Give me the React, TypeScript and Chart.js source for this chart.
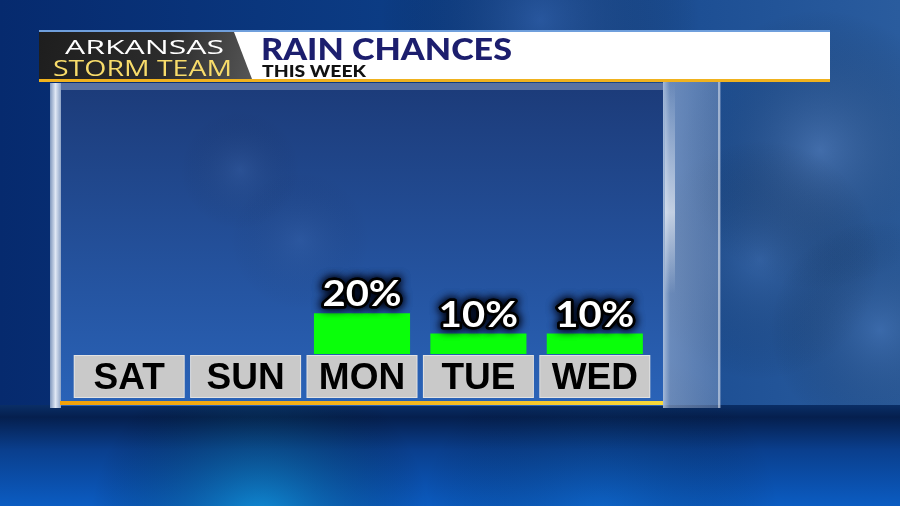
import React, { useEffect, useRef } from "react";
import { Chart, registerables } from "chart.js";

Chart.register(...registerables);

const categories = ["SAT", "SUN", "MON", "TUE", "WED"];
const rainChance = [0, 0, 20, 10, 10];
const titleText = "RAIN CHANCES";
const subtitleText = "THIS WEEK";
const brandTop = "ARKANSAS";
const brandBottom = "STORM TEAM";

function fitText(ctx: CanvasRenderingContext2D, text: string, x: number, y: number, w: number, font: string) {
  ctx.font = font;
  const m = ctx.measureText(text).width;
  ctx.save();
  ctx.translate(x, y);
  ctx.scale(w / m, 1);
  ctx.textAlign = "left";
  ctx.textBaseline = "alphabetic";
  ctx.fillText(text, 0, 0);
  ctx.restore();
}

function blob(ctx: CanvasRenderingContext2D, x: number, y: number, r: number, color: string) {
  const g = ctx.createRadialGradient(x, y, 0, x, y, r);
  g.addColorStop(0, color);
  g.addColorStop(1, "rgba(0,0,0,0)");
  ctx.fillStyle = g;
  ctx.fillRect(x - r, y - r, r * 2, r * 2);
}

const scenePlugin = {
  id: "scene",
  beforeDraw(chart: any) {
    const ctx: CanvasRenderingContext2D = chart.ctx;
    const W = chart.width;
    const H = chart.height;
    ctx.save();
    // sky
    const sky = ctx.createLinearGradient(0, 0, W, 0);
    sky.addColorStop(0, "#062a6e");
    sky.addColorStop(0.5, "#0d3f88");
    sky.addColorStop(1, "#2a5c9e");
    ctx.fillStyle = sky;
    ctx.fillRect(0, 0, W, 420);
    blob(ctx, 820, 150, 140, "rgba(120,150,200,0.35)");
    blob(ctx, 760, 260, 120, "rgba(90,130,190,0.3)");
    blob(ctx, 880, 330, 110, "rgba(100,140,200,0.3)");
    blob(ctx, 540, 20, 160, "rgba(80,120,190,0.35)");
    // water
    const water = ctx.createLinearGradient(0, 405, 0, H);
    water.addColorStop(0, "#0a2e66");
    water.addColorStop(0.12, "#051f4e");
    water.addColorStop(0.45, "#0a3f8e");
    water.addColorStop(1, "#0b5cc2");
    ctx.fillStyle = water;
    ctx.fillRect(0, 405, W, H - 405);
    blob(ctx, 260, 525, 170, "rgba(20,190,240,0.55)");
    blob(ctx, 600, 525, 180, "rgba(20,120,220,0.35)");
    // left glass column
    const lc = ctx.createLinearGradient(50, 0, 61, 0);
    lc.addColorStop(0, "#7f97bd");
    lc.addColorStop(0.5, "#dfe7f4");
    lc.addColorStop(1, "#8da3c6");
    ctx.fillStyle = lc;
    ctx.fillRect(50, 83, 11, 325);
    // inner panel
    const pg = ctx.createLinearGradient(0, 83, 0, 405);
    pg.addColorStop(0, "#1c3b79");
    pg.addColorStop(1, "#2a63b8");
    ctx.fillStyle = pg;
    ctx.fillRect(61, 83, 602, 323);
    blob(ctx, 240, 170, 60, "rgba(120,160,220,0.12)");
    blob(ctx, 300, 240, 70, "rgba(120,160,220,0.1)");
    ctx.fillStyle = "rgba(200,215,240,0.35)";
    ctx.fillRect(61, 83, 602, 7);
    // right glass column
    const rc = ctx.createLinearGradient(663, 0, 721, 0);
    rc.addColorStop(0, "rgba(225,235,250,0.7)");
    rc.addColorStop(0.12, "rgba(185,200,228,0.5)");
    rc.addColorStop(1, "rgba(150,170,205,0.42)");
    ctx.fillStyle = rc;
    ctx.fillRect(663, 82, 58, 326);
    const hl = ctx.createLinearGradient(0, 82, 0, 408);
    hl.addColorStop(0, "rgba(255,255,255,0)");
    hl.addColorStop(0.4, "rgba(255,255,255,0.6)");
    hl.addColorStop(0.65, "rgba(255,255,255,0)");
    ctx.fillStyle = hl;
    ctx.fillRect(665, 82, 10, 326);
    ctx.fillStyle = "rgba(255,255,255,0.45)";
    ctx.fillRect(718, 82, 2, 326);
    // orange line
    const ol = ctx.createLinearGradient(60, 0, 663, 0);
    ol.addColorStop(0, "#f2a10a");
    ol.addColorStop(0.6, "#f5b820");
    ol.addColorStop(1, "#f8d93a");
    ctx.fillStyle = ol;
    ctx.fillRect(60, 401, 603, 4);

    // header
    ctx.fillStyle = "#6f9fdc";
    ctx.fillRect(39, 30, 791, 2);
    ctx.fillStyle = "#ffffff";
    ctx.fillRect(39, 32, 791, 48);
    ctx.fillStyle = "#f0b21e";
    ctx.fillRect(39, 79, 791, 3);
    // logo
    const lg = ctx.createLinearGradient(40, 32, 250, 80);
    lg.addColorStop(0, "#1e1e1e");
    lg.addColorStop(0.6, "#2c2c2c");
    lg.addColorStop(1, "#555555");
    ctx.fillStyle = lg;
    ctx.beginPath();
    ctx.moveTo(39, 32);
    ctx.lineTo(234, 32);
    ctx.lineTo(252, 79);
    ctx.lineTo(39, 79);
    ctx.closePath();
    ctx.fill();
    ctx.fillStyle = "#ffffff";
    fitText(ctx, brandTop, 65, 54, 159, "500 20px 'Open Sans'");
    const gg = ctx.createLinearGradient(0, 58, 0, 76);
    gg.addColorStop(0, "#f8dc6a");
    gg.addColorStop(1, "#d0921c");
    ctx.fillStyle = gg;
    fitText(ctx, brandBottom, 53, 76, 179, "500 22px 'Open Sans'");
    ctx.fillStyle = "#1c1e6e";
    fitText(ctx, titleText, 261, 60, 251, "900 30px Lato");
    ctx.fillStyle = "#111111";
    fitText(ctx, subtitleText, 262, 77, 104, "900 17px Lato");

    // category boxes
    const xs = chart.scales.x;
    categories.forEach((_, i) => {
      const cx = xs.getPixelForValue(i);
      const bw = 111;
      ctx.fillStyle = "#e2e2e2";
      ctx.fillRect(cx - bw / 2, 355, bw, 43);
      ctx.fillStyle = "#c9c9c9";
      ctx.fillRect(cx - bw / 2 + 1, 356, bw - 2, 41);
    });
    ctx.restore();
  },
  afterDatasetsDraw(chart: any) {
    const ctx: CanvasRenderingContext2D = chart.ctx;
    const meta = chart.getDatasetMeta(0);
    ctx.save();
    ctx.font = "bold 37px Lato";
    ctx.textAlign = "center";
    ctx.textBaseline = "alphabetic";
    meta.data.forEach((bar: any, i: number) => {
      const v = rainChance[i];
      if (!v) return;
      const label = v + "%";
      const y = bar.y - 7;
      ctx.save();
      ctx.translate(bar.x, y);
      ctx.scale(1.08, 1);
      ctx.shadowColor = "rgba(0,5,20,1)";
      ctx.shadowBlur = 10;
      ctx.lineWidth = 5;
      ctx.strokeStyle = "#000";
      ctx.lineJoin = "round";
      ctx.strokeText(label, 0, 0);
      ctx.strokeText(label, 0, 0);
      ctx.shadowBlur = 0;
      ctx.fillStyle = "#ffffff";
      ctx.fillText(label, 0, 0);
      ctx.restore();
    });
    ctx.restore();
  },
};

export default function App() {
  const ref = useRef<HTMLCanvasElement | null>(null);
  useEffect(() => {
    if (!ref.current) return;
    const chart = new Chart(ref.current, {
      type: "bar",
      data: {
        labels: categories,
        datasets: [
          {
            data: rainChance,
            backgroundColor: "#0aff0a",
            borderWidth: 0,
            barPercentage: 0.86,
            categoryPercentage: 0.96,
          },
        ],
      },
      options: {
        animation: false,
        responsive: false,
        devicePixelRatio: 1,
        layout: { padding: { left: 71, right: 247, top: 150, bottom: 100 } },
        plugins: { legend: { display: false }, tooltip: { enabled: false } },
        scales: {
          y: { display: false, min: 0, max: 100 },
          x: {
            display: true,
            grid: { display: false },
            border: { display: false },
            afterFit: (s: any) => {
              s.height = 52;
            },
            ticks: {
              color: "#000000",
              padding: -5,
              font: { family: "'Liberation Sans'", weight: "bold", size: 37 },
            },
          },
        },
      },
      plugins: [scenePlugin],
    });
    return () => chart.destroy();
  }, []);
  return (
    <div style={{ position: "fixed", left: 0, top: 0, width: 900, height: 506 }}>
      <canvas ref={ref} width={900} height={506} style={{ display: "block" }} />
    </div>
  );
}
